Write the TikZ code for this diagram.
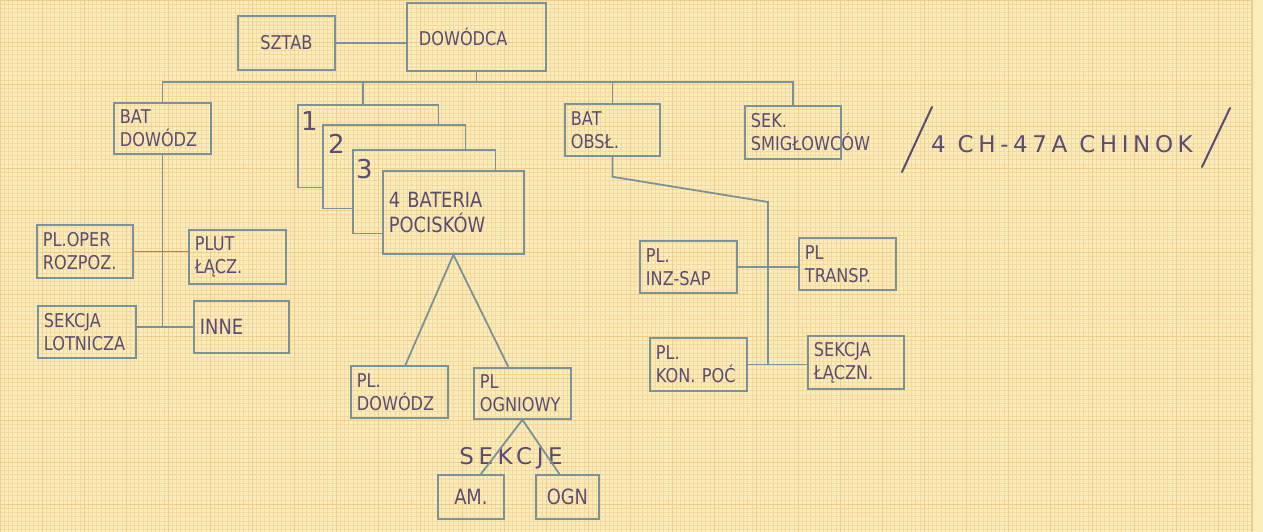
\documentclass[tikz,border=0pt]{standalone}
\usepackage{fontspec}
\setmainfont{DejaVu Sans}
\newfontfamily\widefont[LetterSpace=20]{DejaVu Sans}
\newfontfamily\narrowfont[FakeStretch=0.85]{DejaVu Sans}
\usetikzlibrary{positioning}
\definecolor{paper}{RGB}{251,236,188}
\definecolor{gridline}{RGB}{244,216,156}
\definecolor{gridmajor}{RGB}{238,204,138}
\definecolor{pencil}{RGB}{122,146,154}
\definecolor{ink}{RGB}{90,76,116}
\newcommand\cardfont{\narrowfont\fontsize{19}{23}\selectfont}
\newcommand\bigcardfont{\narrowfont\fontsize{21}{25}\selectfont}

\begin{document}
\begin{tikzpicture}[
  x=1pt, y=-1pt,
  unit/.style 2 args={rectangle, draw=pencil, line width=1.8pt, anchor=north west,
               minimum width=#1, minimum height=#2, text width=#1-12pt, inner sep=5pt,
               align=left, text=ink, font=\cardfont},
  shell/.style 2 args={rectangle, anchor=north west, minimum width=#1, minimum height=#2, inner sep=0pt},
  digit/.style={text=ink, font=\fontsize{26}{26}\selectfont, inner sep=1pt},
  note/.style={text=ink, font=\widefont\fontsize{23}{26}\selectfont, inner sep=0pt},
  link/.style={draw=pencil, line width=1.8pt},
  stroke/.style={draw=ink, line width=2pt, line cap=round}
]
\useasboundingbox (0,0) rectangle (1263,532);
\fill[paper] (0,0) rectangle (1263,532);
\foreach \gx in {0,4.2,...,1252} \draw[gridline, line width=0.35pt] (\gx,0) -- (\gx,532);
\foreach \gy in {0,4.2,...,532} \draw[gridline, line width=0.35pt] (0,\gy) -- (1252,\gy);
\foreach \gx in {0,42,...,1252} \draw[gridmajor, line width=0.6pt] (\gx,0) -- (\gx,532);
\foreach \gy in {0,42,...,532} \draw[gridmajor, line width=0.6pt] (0,\gy) -- (1252,\gy);
\draw[gridmajor, line width=2pt] (1252,0) -- (1252,532);

\node[unit={97pt}{54pt}, align=center] (sztab) at (237,15) {SZTAB};
\node[unit={139pt}{68pt}] (dowodca) at (406,2) {\hspace*{6pt}DOWÓDCA\\[12pt]};

\node[unit={97pt}{51pt}] (batdow) at (113,102) {BAT\\DOWÓDZ};
\node[shell={140pt}{82pt}] (bat1) at (298,105) {};
\node[shell={142pt}{83pt}] (bat2) at (323,125) {};
\node[shell={142pt}{83pt}] (bat3) at (353,150) {};
\node[unit={141pt}{83pt}, font=\bigcardfont] (bateria) at (382,170) {4 BATERIA\\POCISKÓW};
\node[digit, below right=5pt and 2pt of bat1.north west] (d1) {1};
\node[digit, below right=8pt and 4pt of bat2.north west] (d2) {2};
\node[digit, below right=8pt and 2pt of bat3.north west] (d3) {3};
\node[unit={95pt}{52pt}] (batobs) at (564,103) {BAT\\OBSŁ.};
\node[unit={96pt}{53pt}] (smigl) at (744,105) {SEK.\\SMIGŁOWCÓW};
\node[note, anchor=base] (chinook) at (1062,152) {4 CH-47A CHINOK};
\coordinate (slashA1) at (932,107);
\coordinate (slashA2) at (902,172);
\coordinate (slashB1) at (1230,108);
\coordinate (slashB2) at (1202,167);
\draw[stroke] (slashA1) -- (slashA2);
\draw[stroke] (slashB1) -- (slashB2);

\node[unit={96pt}{53pt}] (ploper) at (36,224) {PL.OPER\\ROZPOZ.};
\node[unit={97pt}{54pt}] (plut) at (188,229) {PLUT\\ŁĄCZ.};
\node[unit={98pt}{52pt}] (sekcjalot) at (37,305) {SEKCJA\\LOTNICZA};
\node[unit={95pt}{52pt}, font=\bigcardfont] (inne) at (193,300) {INNE};

\node[unit={97pt}{52pt}] (pldow) at (350,365) {PL.\\DOWÓDZ};
\node[unit={97pt}{51pt}] (plogn) at (473,367) {PL\\OGNIOWY};
\node[note] (sekcje) at (511,458) {SEKCJE};
\node[unit={66pt}{44pt}, font=\bigcardfont, align=center] (am) at (437,474) {AM.};
\node[unit={63pt}{44pt}, font=\bigcardfont, align=center] (ogn) at (535,474) {OGN};

\node[unit={97pt}{52pt}] (plinz) at (639,240) {PL.\\INZ-SAP};
\node[unit={97pt}{52pt}] (pltransp) at (798,237) {PL\\TRANSP.};
\node[unit={97pt}{53pt}] (plkon) at (649,337) {PL.\\KON. POĆ};
\node[unit={96pt}{53pt}] (sekcjalacz) at (807,335) {SEKCJA\\ŁĄCZN.};

\coordinate (bus) at (0,82);
\coordinate (obsknee) at (768,202);

\draw[link] (sztab) -- (sztab -| dowodca.west);
\draw[link] (dowodca.south) -- (dowodca.south |- bus);
\draw[link] (batdow.north) -- (batdow.north |- bus) -- (smigl.north |- bus) -- (smigl.north);
\draw[link] ([xshift=-5pt]bat1.north |- bus) -- ([xshift=-5pt]bat1.north);
\draw[link] (batobs.north |- bus) -- (batobs.north);

\draw[link] (bat1.south -| bat2.west) -- (bat1.south west) -- (bat1.north west) -- (bat1.north east) -- (bat1.east |- bat2.north);
\draw[link] (bat2.south -| bat3.west) -- (bat2.south west) -- (bat2.north west) -- (bat2.north east) -- (bat2.east |- bat3.north);
\draw[link] (bat3.south -| bateria.west) -- (bat3.south west) -- (bat3.north west) -- (bat3.north east) -- (bat3.east |- bateria.north);

\draw[link] ([xshift=6pt]pldow.north) -- (bateria.south) -- ([xshift=-14pt]plogn.north);
\draw[link] ([xshift=10pt]am.north) -- (plogn.south) -- ([xshift=-8pt]ogn.north);

\draw[link] (batdow.south) -- (batdow.south |- inne.west);
\draw[link] (ploper.east) -- (ploper.east -| plut.west);
\draw[link] (sekcjalot.east |- inne.west) -- (inne.west);

\draw[link] (batobs.south) -- ++(0,20) -- (obsknee) -- (obsknee |- plkon.east);
\draw[link] (plinz.east) -- (plinz.east -| pltransp.west);
\draw[link] (plkon.east) -- (plkon.east -| sekcjalacz.west);
\end{tikzpicture}
\end{document}
